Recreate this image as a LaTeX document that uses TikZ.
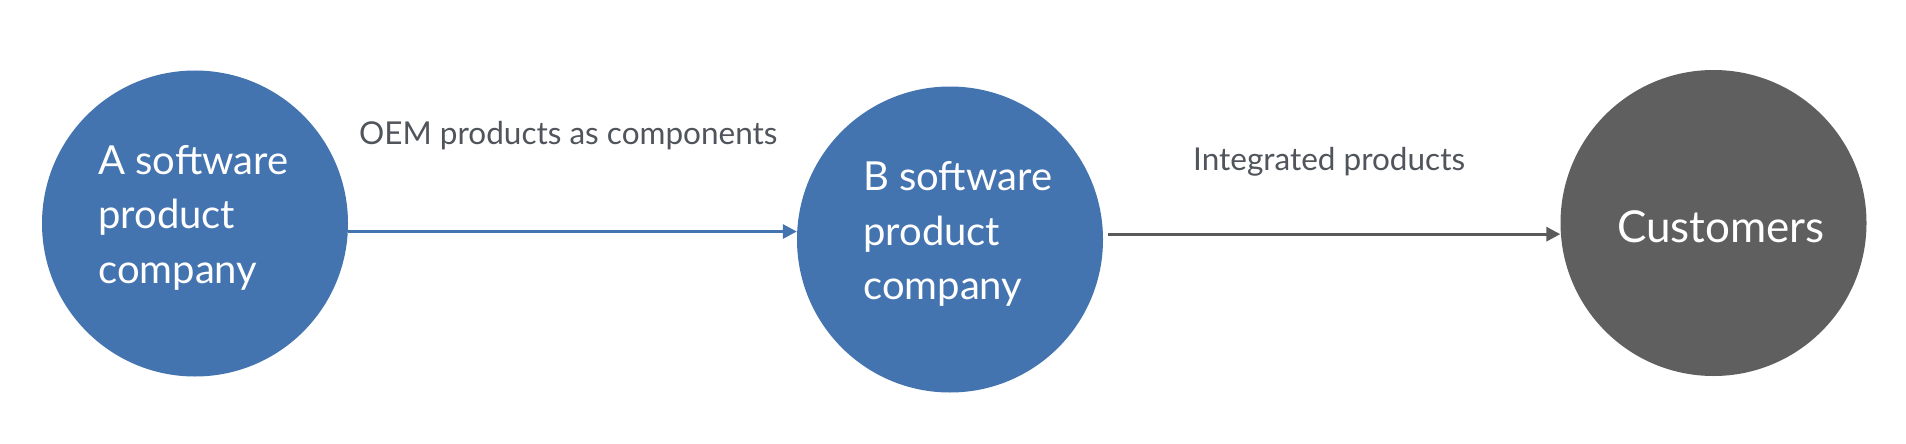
\documentclass[tikz,border=0pt]{standalone}
\usepackage{fontspec}
\setmainfont{Lato}
\usetikzlibrary{arrows.meta}
\definecolor{cblue}{RGB}{68,116,176}
\definecolor{cgrey}{RGB}{95,95,95}
\definecolor{ctxt}{RGB}{80,85,92}
\definecolor{carr}{RGB}{90,90,90}
\tikzset{
  bubble/.style={circle, minimum size=306pt, inner sep=0pt, draw=none},
  intext/.style={text=white, inner sep=0pt, align=left, font=\fontsize{40}{54.5}\selectfont},
  lbl/.style={text=ctxt, inner sep=0pt, font=\fontsize{31.5}{36}\selectfont},
  flow/.style={line width=3pt, -{Triangle[length=14pt,width=14pt]}},
}
\begin{document}
\begin{tikzpicture}[x=1pt,y=-1pt]
\useasboundingbox[fill=white] (0,0) rectangle (1906,444);
\node[bubble, fill=cblue] (A) at (195,223.5) {};
\node[bubble, fill=cblue] (B) at (950,239.5) {};
\node[bubble, fill=cgrey] (C) at (1713.5,223) {};
\node[intext, anchor=west] (At) at (98,217.5) {A software\\product\\company};
\node[intext, anchor=west] (Bt) at (863,234) {B software\\product\\company};
\node[text=white, inner sep=0pt, anchor=base west, font=\fontsize{44}{50}\selectfont] (Ct) at (1617,242) {Customers};
\draw[flow, draw=cblue] (A.-3.2) -- (B.west |- A.-3.2);
\draw[flow, draw=carr, shorten <=5pt] (B.2.8) -- (C.west |- B.2.8);
\node[lbl, anchor=base west] (L1) at (359,144) {OEM products as components};
\node[lbl, anchor=base west] (L2) at (1193,170) {Integrated products};
\end{tikzpicture}
\end{document}
